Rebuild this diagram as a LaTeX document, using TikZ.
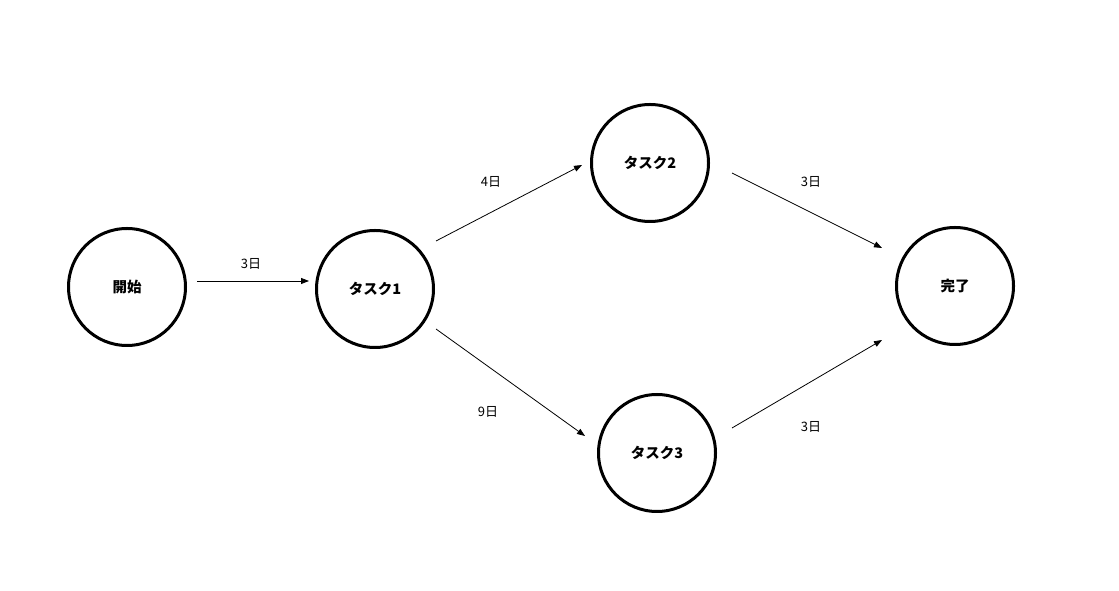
\documentclass[tikz,border=0pt]{standalone}
\usepackage{fontspec}
\setmainfont{Noto Sans CJK JP}
\usetikzlibrary{arrows.meta}
\begin{document}
\begin{tikzpicture}[x=1pt,y=1pt,
  task/.style={circle,draw=black,line width=3pt,minimum size=117pt,inner sep=0pt,
    font=\fontsize{14.5}{16}\selectfont\bfseries},
  conn/.style={line width=0.8pt,-{Triangle[length=8pt,width=6pt]}},
  lbl/.style={font=\fontsize{13}{15}\selectfont,inner sep=0pt}]
\useasboundingbox[fill=white] (0,0) rectangle (1119,591);
\node[task] (start) at (127,304) {開始};
\node[task] (t1) at (375,302) {タスク1};
\node[task] (t2) at (650,428) {タスク2};
\node[task] (t3) at (657,138) {タスク3};
\node[task] (fin) at (955,305) {完了};
\coordinate (a1s) at (197,310); \coordinate (a1e) at (309,310);
\coordinate (a2s) at (436,350); \coordinate (a2e) at (582,426);
\coordinate (a3s) at (436,262); \coordinate (a3e) at (585,155);
\coordinate (a4s) at (732,418); \coordinate (a4e) at (882,343);
\coordinate (a5s) at (732,163); \coordinate (a5e) at (882,251);
\draw[conn] (a1s) -- (a1e);
\draw[conn] (a2s) -- (a2e);
\draw[conn] (a3s) -- (a3e);
\draw[conn] (a4s) -- (a4e);
\draw[conn] (a5s) -- (a5e);
\node[lbl] (l1) at (251,327) {3日};
\node[lbl] (l2) at (491,409) {4日};
\node[lbl] (l3) at (488,179) {9日};
\node[lbl] (l4) at (811,409) {3日};
\node[lbl] (l5) at (811,164) {3日};
\end{tikzpicture}
\end{document}
